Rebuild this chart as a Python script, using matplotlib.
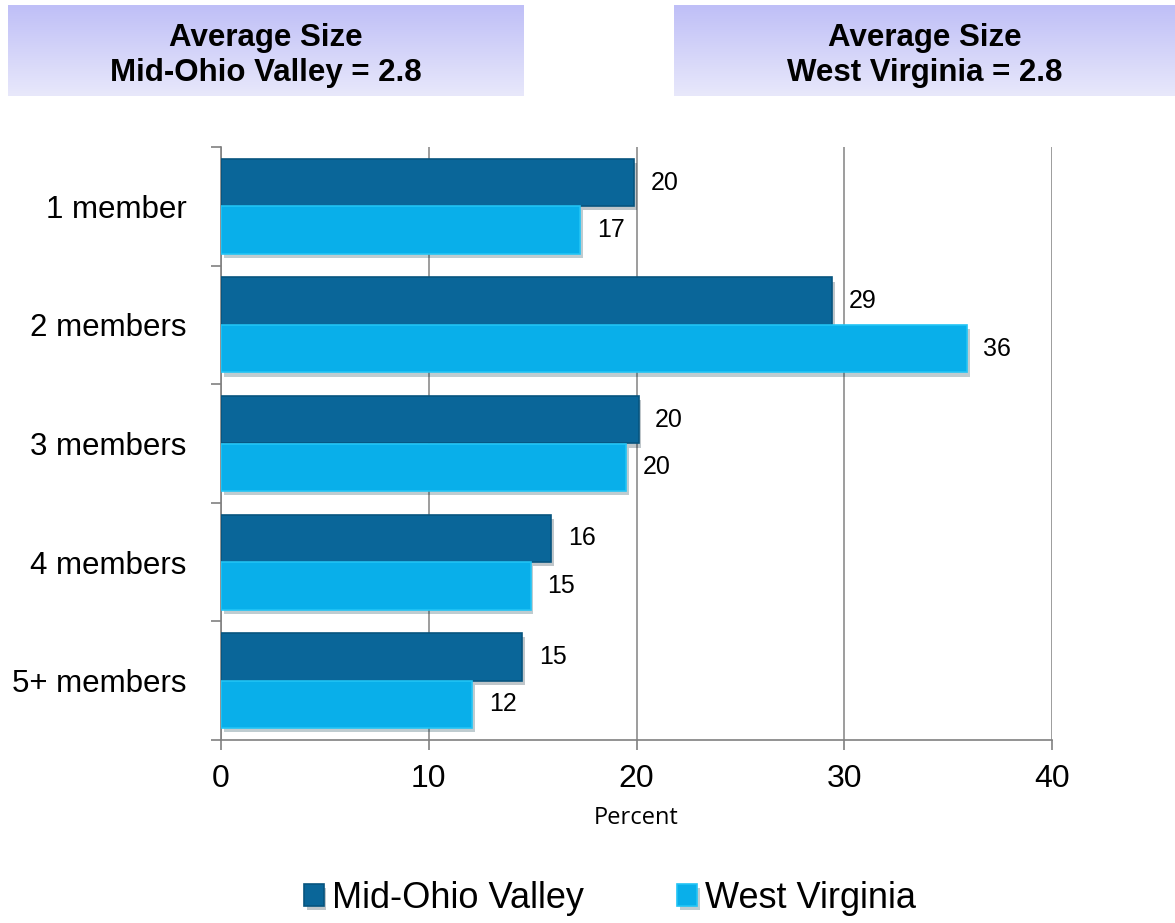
import numpy as np
import matplotlib.pyplot as plt
from matplotlib import patheffects as pe

# household size distribution (percent)
categories = ['1 member', '2 members', '3 members', '4 members', '5+ members']
mov_values = [19.9, 29.4, 20.1, 15.9, 14.5]
wv_values = [17.3, 35.9, 19.5, 14.9, 12.1]
mov_labels = ['20', '29', '20', '16', '15']
wv_labels = ['17', '36', '20', '15', '12']
series_names = ['Mid-Ohio Valley', 'West Virginia']
header_texts = ['Average Size\nMid-Ohio Valley = 2.8', 'Average Size\nWest Virginia = 2.8']
xticks = [0, 10, 20, 30, 40]

plt.rcParams['font.family'] = ['Liberation Sans', 'DejaVu Sans']

W, H = 1175, 923
fig = plt.figure(figsize=(W / 100, H / 100), dpi=100)

# header boxes with a soft vertical gradient
grad = np.linspace(0, 1, 100).reshape(-1, 1)
top_c = np.array([0xbf, 0xbf, 0xf7]) / 255
bot_c = np.array([0xe8, 0xe8, 0xfb]) / 255
img = top_c[None, None, :] * (1 - grad[:, :, None]) + bot_c[None, None, :] * grad[:, :, None]
for (x0, x1), txt in zip([(8, 524), (674, 1175)], header_texts):
    hax = fig.add_axes([x0 / W, 1 - 96 / H, (x1 - x0) / W, 91 / H])
    hax.imshow(img, aspect='auto', extent=[0, 1, 0, 1])
    hax.set_axis_off()
    hax.text(0.5, 0.44, txt, ha='center', va='center', fontsize=22.5,
             fontweight='bold', linespacing=1.22)

ax = fig.add_axes([221 / W, 1 - 740 / H, (1052 - 221) / W, (740 - 147) / H])

n = len(categories)
pos = np.arange(n)
bh = 0.40
mov_color = '#0a6699'
wv_color = '#09afea'
shadow = [pe.SimplePatchShadow(offset=(2, -3), alpha=0.25), pe.Normal()]

b1 = ax.barh(pos - bh / 2, mov_values, height=bh, color=mov_color,
             edgecolor='#07557f', linewidth=1.2, zorder=3, path_effects=shadow)
b2 = ax.barh(pos + bh / 2, wv_values, height=bh, color=wv_color,
             edgecolor='#22c4f5', linewidth=1.2, zorder=3, path_effects=shadow)

for rects, labs in [(b1, mov_labels), (b2, wv_labels)]:
    for r, lab in zip(rects, labs):
        ax.annotate(lab, (r.get_width(), r.get_y() + r.get_height() / 2),
                    xytext=(12, 0), textcoords='offset points',
                    va='center', ha='left', fontsize=18)

ax.set_xlim(0, 40)
ax.set_ylim(n - 0.5, -0.5)
ax.set_xticks(xticks)
ax.set_xticklabels([str(t) for t in xticks], fontsize=23)
ax.set_yticks(pos)
ax.set_yticklabels(categories, fontsize=22.5)
ax.tick_params(axis='y', length=0, pad=25)
ax.set_yticks(np.arange(n + 1) - 0.5, minor=True)
ax.tick_params(axis='y', which='minor', length=7, color='#808080', width=1.2)
ax.tick_params(axis='x', length=7, color='#808080', width=1.2, pad=10)

ax.grid(axis='x', color='#8c8c8c', linewidth=1.2, zorder=0)
for s in ['top', 'right']:
    ax.spines[s].set_visible(False)
for s in ['left', 'bottom']:
    ax.spines[s].set_color('#808080')
    ax.spines[s].set_linewidth(1.2)

ax.set_xlabel('Percent', fontsize=17, family=['Open Sans', 'DejaVu Sans'], labelpad=9)

leg = fig.legend([b1, b2], series_names, loc='center', bbox_to_anchor=(610 / W, 1 - 898 / H),
                 ncol=2, frameon=False, fontsize=26, handlelength=0.55, handleheight=0.55,
                 columnspacing=2.6, handletextpad=0.22)

fig.savefig('out.png', dpi=100)
